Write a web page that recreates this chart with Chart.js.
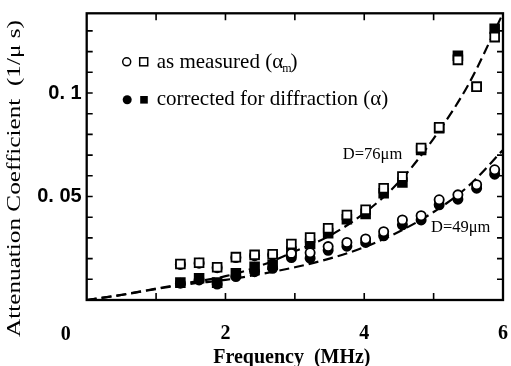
<!DOCTYPE html>
<html>
<head>
<meta charset="utf-8">
<script src="https://cdn.jsdelivr.net/npm/chart.js@4.4.1/dist/chart.umd.min.js"></script>
<style>
  html, body { margin: 0; padding: 0; background: #fff; }
  #c { display: block; }
</style>
</head>
<body>
<canvas id="c" width="511" height="366"></canvas>
<script>
// Measurement frequencies (MHz)
const freqMHz = [1.35, 1.62, 1.88, 2.15, 2.42, 2.68, 2.95, 3.22, 3.48, 3.75, 4.02, 4.28, 4.55, 4.82, 5.08, 5.35, 5.62, 5.88];

// D = 76 um sample (squares)
const measured76  = [0.0174, 0.0180, 0.0158, 0.0207, 0.0218, 0.0221, 0.0270, 0.0302, 0.0347, 0.0411, 0.0436, 0.0540, 0.0597, 0.0734, 0.0834, 0.1160, 0.1030, 0.1270];
const corrected76 = [0.0084, 0.0105, 0.0084, 0.0129, 0.0161, 0.0170, 0.0234, 0.0271, 0.0323, 0.0390, 0.0416, 0.0516, 0.0568, 0.0725, 0.0830, 0.1180, 0.1030, 0.1310];

// D = 49 um sample (circles)
const measured49  = [0.0172, 0.0178, 0.0156, 0.0205, 0.0214, 0.0218, 0.0225, 0.0228, 0.0258, 0.0278, 0.0295, 0.0330, 0.0387, 0.0407, 0.0484, 0.0508, 0.0557, 0.0629];
const corrected49 = [0.0081, 0.0097, 0.0077, 0.0113, 0.0137, 0.0153, 0.0205, 0.0202, 0.0240, 0.0260, 0.0278, 0.0310, 0.0363, 0.0387, 0.0460, 0.0487, 0.0540, 0.0608];

// Theoretical curves (dashed)
const fitFreq  = [0, 0.5, 1, 1.5, 2, 2.5, 3, 3.5, 4, 4.5, 5, 5.5, 6];
const fit76    = [0, 0.0025, 0.0055, 0.0085, 0.0115, 0.0165, 0.0235, 0.0310, 0.0420, 0.0570, 0.0780, 0.1040, 0.1385];
const fit49    = [0, 0.0024, 0.0053, 0.0078, 0.0097, 0.0125, 0.0158, 0.0200, 0.0255, 0.0330, 0.0425, 0.0550, 0.0725];

// Tick labels
const xTickLabels = { 2: '2', 4: '4', 6: '6' };
const yTickLabels = { 5: '0. 05', 10: '0. 1' };   // keyed by hundredths

// Curve labels, anchored in data coordinates
const curveLabels = [
  { text: 'D=76\u03bcm', f: 4.12, v: 0.0702 },
  { text: 'D=49\u03bcm', f: 5.39, v: 0.0348 }
];

const pts = (xs, ys) => xs.map((x, i) => ({ x, y: ys[i] }));

const SERIF = '"Liberation Serif", "Times New Roman", serif';
const SANS = '"Liberation Sans", Arial, sans-serif';

const framePlugin = {
  id: 'frame',
  afterDatasetsDraw(chart) {
    const { ctx, chartArea: a, scales: { x, y } } = chart;
    ctx.save();
    ctx.strokeStyle = '#000';
    ctx.fillStyle = '#000';

    // inward tick marks on all four sides
    ctx.lineWidth = 1.6;
    ctx.beginPath();
    x.ticks.forEach(t => {
      if (t.value <= x.min || t.value >= x.max) return;
      const px = x.getPixelForValue(t.value);
      ctx.moveTo(px, a.bottom); ctx.lineTo(px, a.bottom - 7);
      ctx.moveTo(px, a.top);    ctx.lineTo(px, a.top + 7);
    });
    y.ticks.forEach(t => {
      if (t.value <= y.min || t.value >= y.max) return;
      const py = y.getPixelForValue(t.value);
      ctx.moveTo(a.left, py);  ctx.lineTo(a.left + 6, py);
      ctx.moveTo(a.right, py); ctx.lineTo(a.right - 6, py);
    });
    ctx.stroke();

    // plot frame
    ctx.lineWidth = 2.3;
    ctx.strokeRect(a.left, a.top, a.right - a.left, a.bottom - a.top);

    // curve labels on a white patch
    ctx.font = '16.5px ' + SERIF;
    ctx.textAlign = 'center';
    ctx.textBaseline = 'middle';
    curveLabels.forEach(l => {
      const px = x.getPixelForValue(l.f), py = y.getPixelForValue(l.v);
      const w = ctx.measureText(l.text).width;
      ctx.fillStyle = '#fff';
      ctx.fillRect(px - w / 2 - 1, py - 8, w + 2, 16);
      ctx.fillStyle = '#000';
      ctx.fillText(l.text, px, py);
    });

    // legend
    const lx = a.left + 40, tx = a.left + 70;
    const r1 = a.top + 48.5, r2 = a.top + 86.5;
    ctx.lineWidth = 1.5;
    ctx.beginPath(); ctx.arc(lx, r1, 4, 0, Math.PI * 2); ctx.fillStyle = '#fff'; ctx.fill(); ctx.stroke();
    ctx.fillStyle = '#fff'; ctx.fillRect(lx + 13, r1 - 4, 8, 8); ctx.strokeRect(lx + 13, r1 - 4, 8, 8);
    ctx.fillStyle = '#000';
    ctx.beginPath(); ctx.arc(lx + 0.5, r2, 4.5, 0, Math.PI * 2); ctx.fill();
    ctx.fillRect(lx + 13.5, r2 - 3.8, 7.6, 7.6);

    ctx.textAlign = 'left';
    ctx.textBaseline = 'alphabetic';
    ctx.font = '21px ' + SERIF;
    const s = 'as measured (\u03b1';
    ctx.fillText(s, tx, r1 + 6.5);
    const w = ctx.measureText(s).width;
    ctx.font = '12px ' + SERIF;
    ctx.fillText('m', tx + w - 1, r1 + 10);
    const wm = ctx.measureText('m').width;
    ctx.font = '21px ' + SERIF;
    ctx.fillText(')', tx + w + wm - 2, r1 + 6.5);
    ctx.fillText('corrected for diffraction (\u03b1)', tx, r2 + 5);

    // shared origin label
    ctx.font = 'bold 20px ' + SERIF;
    ctx.textAlign = 'center';
    ctx.fillText('0', a.left - 21, a.bottom + 40);

    // x-axis title
    ctx.font = 'bold 20px ' + SERIF;
    ctx.fillText('Frequency  (MHz)', (a.left + a.right) / 2 - 3, 363);

    // y-axis title, fitted to its span along the axis
    ctx.font = '19px ' + SERIF;
    const yt = 'Attenuation Coefficient  (1/\u03bc s)';
    const tw = ctx.measureText(yt).width;
    ctx.translate(20, 178.5);
    ctx.rotate(-Math.PI / 2);
    ctx.scale(317 / tw, 1);
    ctx.fillText(yt, 0, 0);
    ctx.restore();
  }
};

new Chart(document.getElementById('c'), {
  type: 'scatter',
  data: {
    datasets: [
      { label: 'D=76um fit', data: pts(fitFreq, fit76), showLine: true, pointRadius: 0,
        borderColor: '#000', borderWidth: 2.2, borderDash: [10, 5], cubicInterpolationMode: 'monotone', order: 10 },
      { label: 'D=49um fit', data: pts(fitFreq, fit49), showLine: true, pointRadius: 0,
        borderColor: '#000', borderWidth: 2.2, borderDash: [10, 5], cubicInterpolationMode: 'monotone', order: 9 },
      { label: 'corrected 49', data: pts(freqMHz, corrected49), pointStyle: 'circle', pointRadius: 4.6,
        backgroundColor: '#000', borderColor: '#000', borderWidth: 1.8, order: 4 },
      { label: 'corrected 76', data: pts(freqMHz, corrected76), pointStyle: 'rect', pointRadius: 6.2,
        backgroundColor: '#000', borderColor: '#000', borderWidth: 1.8, order: 3 },
      { label: 'measured 49', data: pts(freqMHz, measured49), pointStyle: 'circle', pointRadius: 4.6,
        backgroundColor: '#fff', borderColor: '#000', borderWidth: 1.8, order: 2 },
      { label: 'measured 76', data: pts(freqMHz, measured76), pointStyle: 'rect', pointRadius: 6.2,
        backgroundColor: '#fff', borderColor: '#000', borderWidth: 1.8, order: 1 }
    ]
  },
  options: {
    responsive: false,
    animation: false,
    devicePixelRatio: 1,
    layout: { padding: { left: 0, right: 7.7, top: 13.3, bottom: 0 } },
    plugins: { legend: { display: false }, tooltip: { enabled: false } },
    scales: {
      x: {
        type: 'linear', min: 0, max: 6,
        grid: { display: false, drawTicks: true, tickLength: 22 },
        border: { display: false },
        ticks: {
          stepSize: 1, autoSkip: false, maxRotation: 0, padding: 0, color: '#000',
          font: { family: SERIF, size: 20, weight: 'bold' },
          callback: v => xTickLabels[v] ?? ''
        },
        afterFit: s => { s.height = 66; }
      },
      y: {
        type: 'linear', min: 0, max: 0.1385,
        grid: { display: false, drawTicks: true, tickLength: 5 },
        border: { display: false },
        ticks: {
          stepSize: 0.01, includeBounds: false, autoSkip: false, padding: 0, color: '#000',
          font: { family: SANS, size: 20, weight: 'bold' },
          callback: v => yTickLabels[Math.round(v * 100)] ?? ''
        },
        afterFit: s => { s.width = 86.7; }
      }
    }
  },
  plugins: [framePlugin]
});
</script>
</body>
</html>
